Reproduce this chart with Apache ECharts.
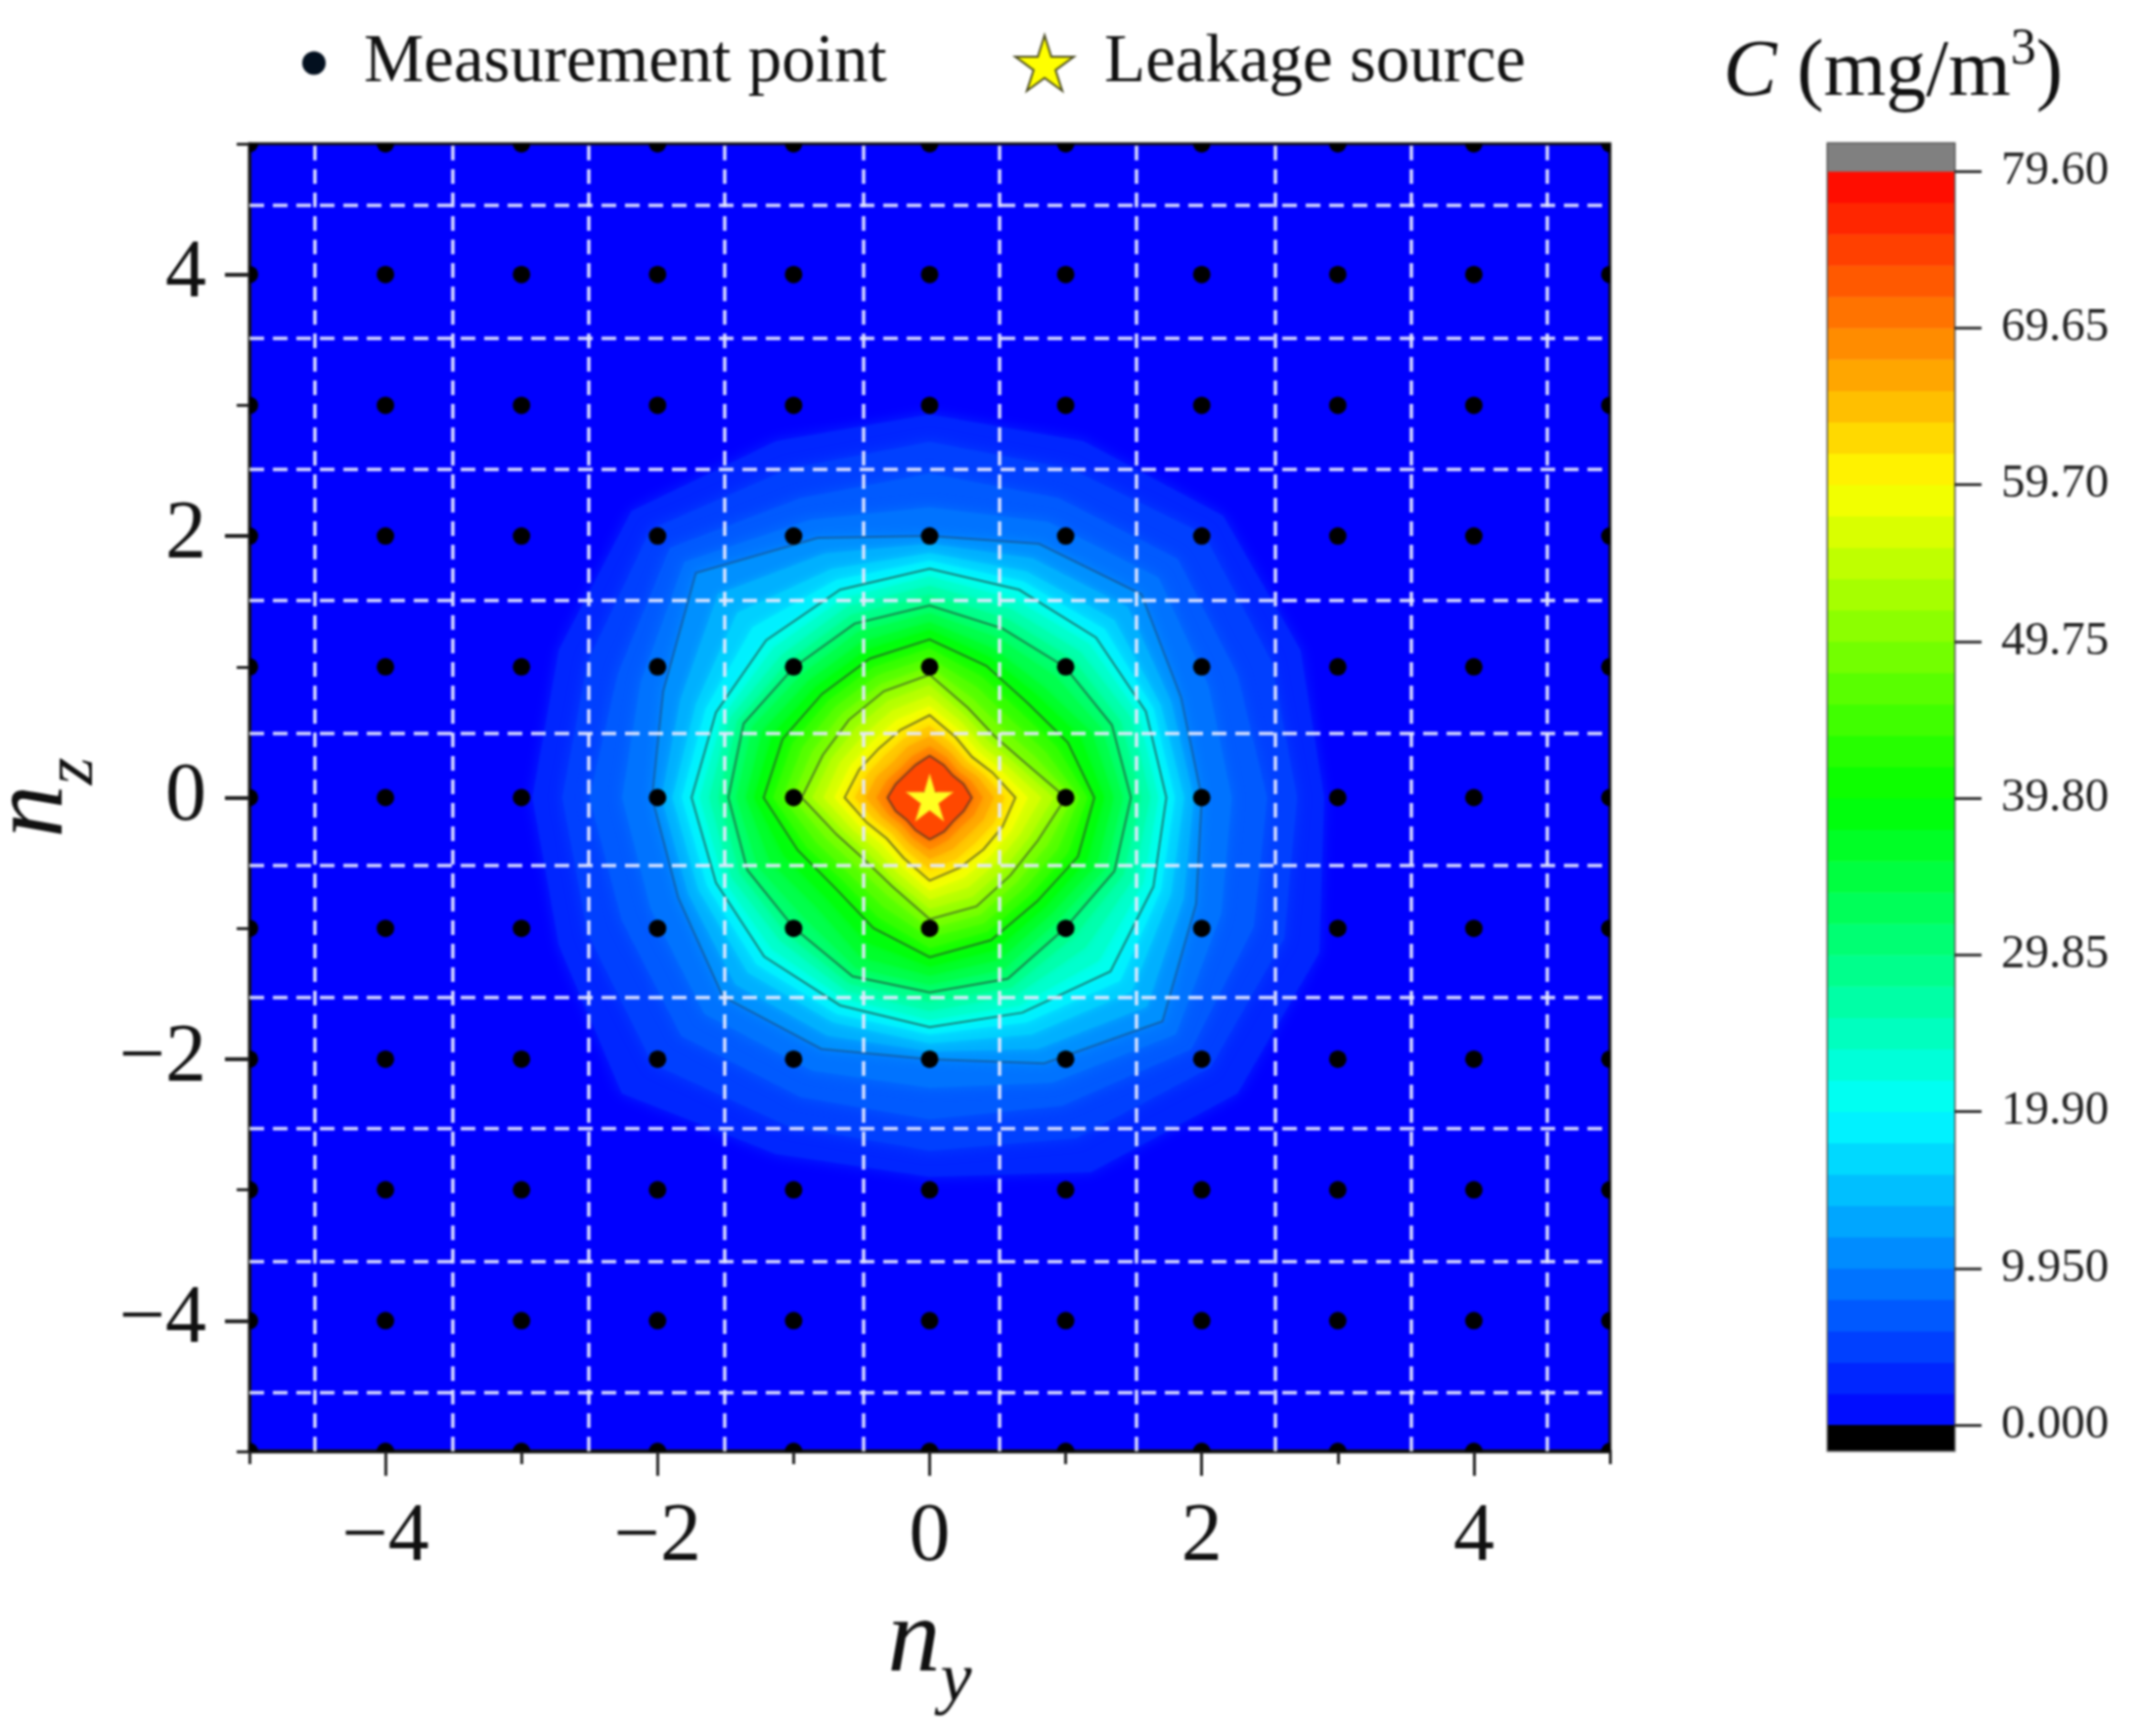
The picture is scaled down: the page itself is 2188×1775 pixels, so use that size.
<!DOCTYPE html>
<html><head><meta charset="utf-8">
<style>html,body{margin:0;padding:0;background:#fff}#c{width:2188px;height:1775px}#c canvas{filter:blur(0.9px)}</style>
<script src="https://cdn.jsdelivr.net/npm/echarts@6/dist/echarts.min.js"></script>
</head><body><div id="c"></div>
<script>
const measureY = [-5,-4,-3,-2,-1,0,1,2,3,4,5];
const measureZ = [-5,-4,-3,-2,-1,0,1,2,3,4,5];
const sourcePoint = [0,0];
const xMajorTicks = [-4,-2,0,2,4];
const xMinorTicks = [-5,-3,-1,1,3,5];
const yMajorTicks = [-4,-2,0,2,4];
const yMinorTicks = [-5,-3,-1,1,3,5];
const dashedY = [-4.52,-3.51,-2.51,-1.51,-0.49,0.51,1.52,2.54,3.54,4.54];
const dashedZ = [4.53,3.51,2.51,1.51,0.49,-0.52,-1.53,-2.53,-3.55,-4.55];
const colorTicks = [0,9.95,19.9,29.85,39.8,49.75,59.7,69.65,79.6];
const colorTickLabels = ['0.000','9.950','19.90','29.85','39.80','49.75','59.70','69.65','79.60'];
const paletteStops = [[0,[0,0,255]],[19.9,[0,255,255]],[39.8,[0,255,0]],[59.7,[255,255,0]],[79.6,[255,0,0]]];
const ringAngles = [0,22.5,45,67.5,90,112.5,135,157.5,180,202.5,225,247.5,270,292.5,315,337.5];
const lineLevels = [10,20,30,40,50,60,70];
const ringLevels = [2,4,6,8,10,12.5,15,17.5,20,22.5,25,27.5,30,32.5,35,37.5,40,42.5,45,47.5,50,52.5,55,57.5,60,62.5,65,67.5,70];
const ringRadii = [
[2.90,2.95,3.05,2.95,2.93,2.95,3.10,2.95,2.92,2.95,3.20,2.95,2.90,3.10,3.20,3.10],
[2.70,2.72,2.85,2.72,2.72,2.72,2.90,2.72,2.70,2.72,2.88,2.72,2.70,2.82,2.92,2.82],
[2.48,2.45,2.58,2.48,2.48,2.48,2.70,2.48,2.50,2.45,2.58,2.48,2.46,2.55,2.72,2.58],
[2.22,2.22,2.38,2.28,2.22,2.30,2.55,2.30,2.26,2.22,2.34,2.26,2.22,2.36,2.56,2.32],
[2.00,2.00,2.20,2.10,2.00,2.15,2.43,2.12,2.04,2.00,2.15,2.08,2.00,2.20,2.42,2.12],
[1.94,1.92,2.06,1.98,1.94,2.02,2.20,1.98,1.97,1.92,2.02,1.97,1.94,2.08,2.26,2.02],
[1.87,1.84,1.92,1.87,1.87,1.89,2.00,1.86,1.89,1.84,1.89,1.86,1.88,1.96,2.10,1.92],
[1.80,1.78,1.82,1.79,1.81,1.80,1.84,1.78,1.82,1.77,1.80,1.79,1.81,1.86,1.98,1.84],
[1.74,1.72,1.73,1.72,1.75,1.72,1.70,1.70,1.75,1.70,1.72,1.72,1.755,1.78,1.88,1.78],
[1.68,1.66,1.66,1.64,1.69,1.65,1.62,1.64,1.69,1.64,1.64,1.66,1.70,1.72,1.76,1.70],
[1.62,1.60,1.57,1.56,1.62,1.58,1.54,1.59,1.62,1.58,1.55,1.60,1.63,1.64,1.62,1.62],
[1.55,1.52,1.49,1.48,1.55,1.51,1.47,1.53,1.55,1.51,1.48,1.54,1.56,1.57,1.50,1.54],
[1.48,1.45,1.41,1.40,1.47,1.44,1.41,1.48,1.48,1.45,1.41,1.48,1.49,1.50,1.41,1.47],
[1.42,1.37,1.31,1.32,1.41,1.37,1.33,1.41,1.42,1.37,1.30,1.41,1.43,1.42,1.33,1.40],
[1.35,1.29,1.19,1.23,1.34,1.29,1.26,1.33,1.35,1.27,1.18,1.32,1.36,1.34,1.26,1.33],
[1.28,1.20,1.11,1.16,1.28,1.22,1.19,1.25,1.29,1.16,1.08,1.20,1.29,1.26,1.19,1.25],
[1.21,1.10,1.02,1.09,1.21,1.15,1.12,1.17,1.22,1.05,0.98,1.08,1.22,1.18,1.12,1.18],
[1.16,1.01,0.93,1.00,1.14,1.08,1.05,1.09,1.15,0.98,0.90,0.99,1.15,1.11,1.05,1.10],
[1.10,0.92,0.84,0.91,1.07,1.01,0.98,1.01,1.08,0.90,0.83,0.90,1.07,1.04,0.98,1.02],
[1.05,0.83,0.75,0.82,1.00,0.94,0.91,0.93,1.01,0.82,0.75,0.81,1.00,0.97,0.91,0.94],
[1.00,0.74,0.67,0.74,0.94,0.88,0.84,0.85,0.94,0.74,0.675,0.73,0.93,0.90,0.84,0.86],
[0.91,0.68,0.61,0.68,0.86,0.80,0.76,0.78,0.86,0.68,0.62,0.68,0.85,0.82,0.77,0.79],
[0.82,0.62,0.55,0.62,0.78,0.72,0.68,0.71,0.78,0.62,0.56,0.62,0.78,0.74,0.70,0.72],
[0.72,0.56,0.50,0.56,0.70,0.64,0.60,0.63,0.70,0.56,0.50,0.56,0.71,0.66,0.63,0.65],
[0.63,0.50,0.44,0.50,0.63,0.56,0.53,0.56,0.625,0.50,0.445,0.50,0.635,0.58,0.56,0.58],
[0.55,0.44,0.39,0.44,0.55,0.49,0.46,0.49,0.55,0.44,0.39,0.44,0.55,0.51,0.48,0.51],
[0.47,0.39,0.34,0.38,0.47,0.42,0.38,0.42,0.47,0.38,0.34,0.38,0.47,0.43,0.40,0.43],
[0.39,0.33,0.29,0.33,0.39,0.34,0.31,0.34,0.39,0.33,0.29,0.33,0.40,0.35,0.32,0.35],
[0.31,0.27,0.24,0.27,0.32,0.27,0.25,0.27,0.31,0.27,0.24,0.27,0.32,0.28,0.25,0.27]
];
const barStep = 1.99;
const barBandCount = 40;
const barCaps = [[-1.61,0],[79.6,81.34]];
const capColors = ['#000000','#808080'];

const FONT = 'Liberation Serif';
const STAR = 'path://M50,0 L61,35 L98,35 L68,57 L79,91 L50,70 L21,91 L32,57 L2,35 L39,35 Z';

function colorOf(v){
  const s = paletteStops;
  if (v <= s[0][0]) return `rgb(${s[0][1].join(',')})`;
  for (let i=1;i<s.length;i++){
    if (v <= s[i][0]){
      const t=(v-s[i-1][0])/(s[i][0]-s[i-1][0]);
      const c=s[i-1][1].map((a,k)=>Math.round(a+(s[i][1][k]-a)*t));
      return `rgb(${c.join(',')})`;
    }
  }
  return `rgb(${s[s.length-1][1].join(',')})`;
}
function ringPoints(params, api){
  const pts=[];
  ringAngles.forEach((deg,i)=>{
    const r=api.value(i+1), a=deg*Math.PI/180;
    pts.push(api.coord([r*Math.cos(a), r*Math.sin(a)]));
  });
  return pts;
}
const ringData = ringLevels.map((l,i)=>[l].concat(ringRadii[i]));
const lineData = ringData.filter(d=>lineLevels.includes(d[0]));
const bandData = [];
for (let i=0;i<barBandCount;i++) bandData.push([i*barStep,(i+1)*barStep]);
const bandColors = bandData.map(b=>colorOf((b[0]+b[1])/2)).concat(capColors);
const points=[];
measureY.forEach(y=>measureZ.forEach(z=>points.push([y,z])));

const chart = echarts.init(document.getElementById('c'),null,{renderer:'canvas',width:2188,height:1775});
chart.setOption({
  animation:false,
  backgroundColor:'#fff',
  textStyle:{fontFamily:FONT},
  title:{
    text:'{i|C} (mg/m{s|3})', left:1757, top:20,
    textStyle:{fontFamily:FONT,fontSize:82,fontWeight:'normal',color:'#111',
      rich:{i:{fontFamily:FONT,fontStyle:'italic',fontSize:82,color:'#111'},
            s:{fontFamily:FONT,fontSize:52,color:'#111',padding:[0,0,48,0]}}}
  },
  legend:[
    {data:[{name:'Measurement point',icon:'circle',itemStyle:{color:'#03101f'}}],left:304,top:25,itemWidth:24,itemHeight:24,
     textStyle:{fontFamily:FONT,fontSize:69,color:'#111',padding:[0,0,0,34]}},
    {data:[{name:'Leakage source',icon:STAR,itemStyle:{color:'#ffff00',borderColor:'#4a4a20',borderWidth:2}}],left:1032,top:25,itemWidth:60,itemHeight:60,
     textStyle:{fontFamily:FONT,fontSize:69,color:'#111',padding:[0,0,0,26]}}
  ],
  grid:[
    {left:255,top:147,width:1391,height:1337,show:true,backgroundColor:'#0000ff',borderColor:'#111',borderWidth:3,containLabel:false,outerBoundsMode:'none'},
    {left:1869,top:147,width:129,height:1336,show:true,borderColor:'#555',borderWidth:3,backgroundColor:'transparent',containLabel:false,outerBoundsMode:'none'}
  ],
  xAxis:[
    {gridIndex:0,type:'value',min:-5,max:5,position:'bottom',
     axisLine:{show:true,onZero:false,lineStyle:{color:'#111',width:4}},
     axisTick:{show:true,customValues:xMajorTicks,length:25,lineStyle:{color:'#222',width:3}},
     axisLabel:{customValues:xMajorTicks,fontFamily:FONT,fontSize:84,color:'#111',margin:47,formatter:v=>String(v).replace('-','\u2212')},
     splitLine:{show:false},
     name:'{n|n}{s|y}',nameLocation:'middle',nameGap:120,
     nameTextStyle:{rich:{n:{fontFamily:FONT,fontStyle:'italic',fontSize:108,color:'#111'},
                          s:{fontFamily:FONT,fontStyle:'italic',fontSize:72,color:'#111',padding:[80,0,0,0]}}}},
    {gridIndex:0,type:'value',min:-5,max:5,position:'bottom',
     axisLine:{show:false,onZero:false},
     axisTick:{show:true,customValues:xMinorTicks,length:13,lineStyle:{color:'#222',width:3}},
     axisLabel:{show:false},splitLine:{show:false}},
    {gridIndex:1,type:'value',min:0,max:1,show:false}
  ],
  yAxis:[
    {gridIndex:0,type:'value',min:-5,max:5,position:'left',
     axisLine:{show:true,onZero:false,lineStyle:{color:'#111',width:3}},
     axisTick:{show:true,customValues:yMajorTicks,length:25,lineStyle:{color:'#222',width:4}},
     axisLabel:{customValues:yMajorTicks,fontFamily:FONT,fontSize:84,color:'#111',margin:44,formatter:v=>String(v).replace('-','\u2212')},
     splitLine:{show:false},
     name:'{n|n}{s|z}',nameLocation:'middle',nameGap:140,nameRotate:90,
     nameTextStyle:{rich:{n:{fontFamily:FONT,fontStyle:'italic',fontSize:108,color:'#111'},
                          s:{fontFamily:FONT,fontStyle:'italic',fontSize:72,color:'#111',padding:[80,0,0,0]}}}},
    {gridIndex:0,type:'value',min:-5,max:5,position:'left',
     axisLine:{show:false,onZero:false},
     axisTick:{show:true,customValues:yMinorTicks,length:13,lineStyle:{color:'#222',width:3}},
     axisLabel:{show:false},splitLine:{show:false}},
    {gridIndex:1,type:'value',min:-1.61,max:81.34,position:'right',
     axisLine:{show:false,onZero:false},
     axisTick:{show:true,customValues:colorTicks,length:28,lineStyle:{color:'#333',width:3}},
     axisLabel:{customValues:colorTicks,fontFamily:FONT,fontSize:49,color:'#222',margin:48,padding:[9,0,0,0],
       formatter:v=>colorTickLabels[colorTicks.indexOf(v)]},
     splitLine:{show:false}}
  ],
  series:[
    {type:'custom',name:'Concentration',xAxisIndex:0,yAxisIndex:0,z:2,silent:true,clip:true,data:ringData,
     renderItem(params,api){
       const l=api.value(0), idx=ringLevels.indexOf(l);
       const next=idx<ringLevels.length-1?ringLevels[idx+1]:l+8;
       const fill=colorOf((l+next)/2);
       return {type:'polygon',shape:{points:ringPoints(params,api)},style:{fill:fill,stroke:null,shadowBlur:l<12?14:9,shadowColor:fill}};
     }},
    {type:'custom',name:'Contours',xAxisIndex:0,yAxisIndex:0,z:3,silent:true,clip:true,data:lineData,
     renderItem(params,api){
       return {type:'polygon',shape:{points:ringPoints(params,api)},style:{fill:'none',stroke:api.value(0)<=10?'rgba(40,50,70,0.45)':'rgba(40,50,50,0.62)',lineWidth:2}};
     }},
    {type:'line',name:'Grid',xAxisIndex:0,yAxisIndex:0,z:4,data:[],silent:true,symbol:'none',
     markLine:{silent:true,symbol:'none',animation:false,label:{show:false},
       lineStyle:{color:'#e6e9ff',type:[15,9],width:3.5,opacity:0.95},
       data:dashedY.map(v=>({xAxis:v})).concat(dashedZ.map(v=>({yAxis:v})))}},
    {type:'custom',name:'Measurement point',xAxisIndex:0,yAxisIndex:0,z:5,clip:true,data:points,silent:true,
     encode:{x:0,y:1},
     renderItem(params,api){
       const c=api.coord([api.value(0),api.value(1)]);
       return {type:'circle',shape:{cx:c[0],cy:c[1],r:9},style:{fill:'#000'}};
     }},
    {type:'scatter',name:'Leakage source',xAxisIndex:0,yAxisIndex:0,z:6,data:[sourcePoint],symbol:STAR,symbolSize:48,
     itemStyle:{color:'#ffff20',borderColor:'#ffb020',borderWidth:1,opacity:1},silent:true},
    {type:'custom',name:'Color bar',xAxisIndex:2,yAxisIndex:2,z:2,silent:true,clip:true,data:bandData.concat(barCaps),
     encode:{y:[0,1]},
     renderItem(params,api){
       const a=api.coord([0,api.value(0)]), b=api.coord([1,api.value(1)]);
       return {type:'rect',shape:{x:a[0],y:b[1],width:b[0]-a[0],height:a[1]-b[1]+0.5},style:{fill:bandColors[params.dataIndex]}};
     }}
  ]
});
</script></body></html>
